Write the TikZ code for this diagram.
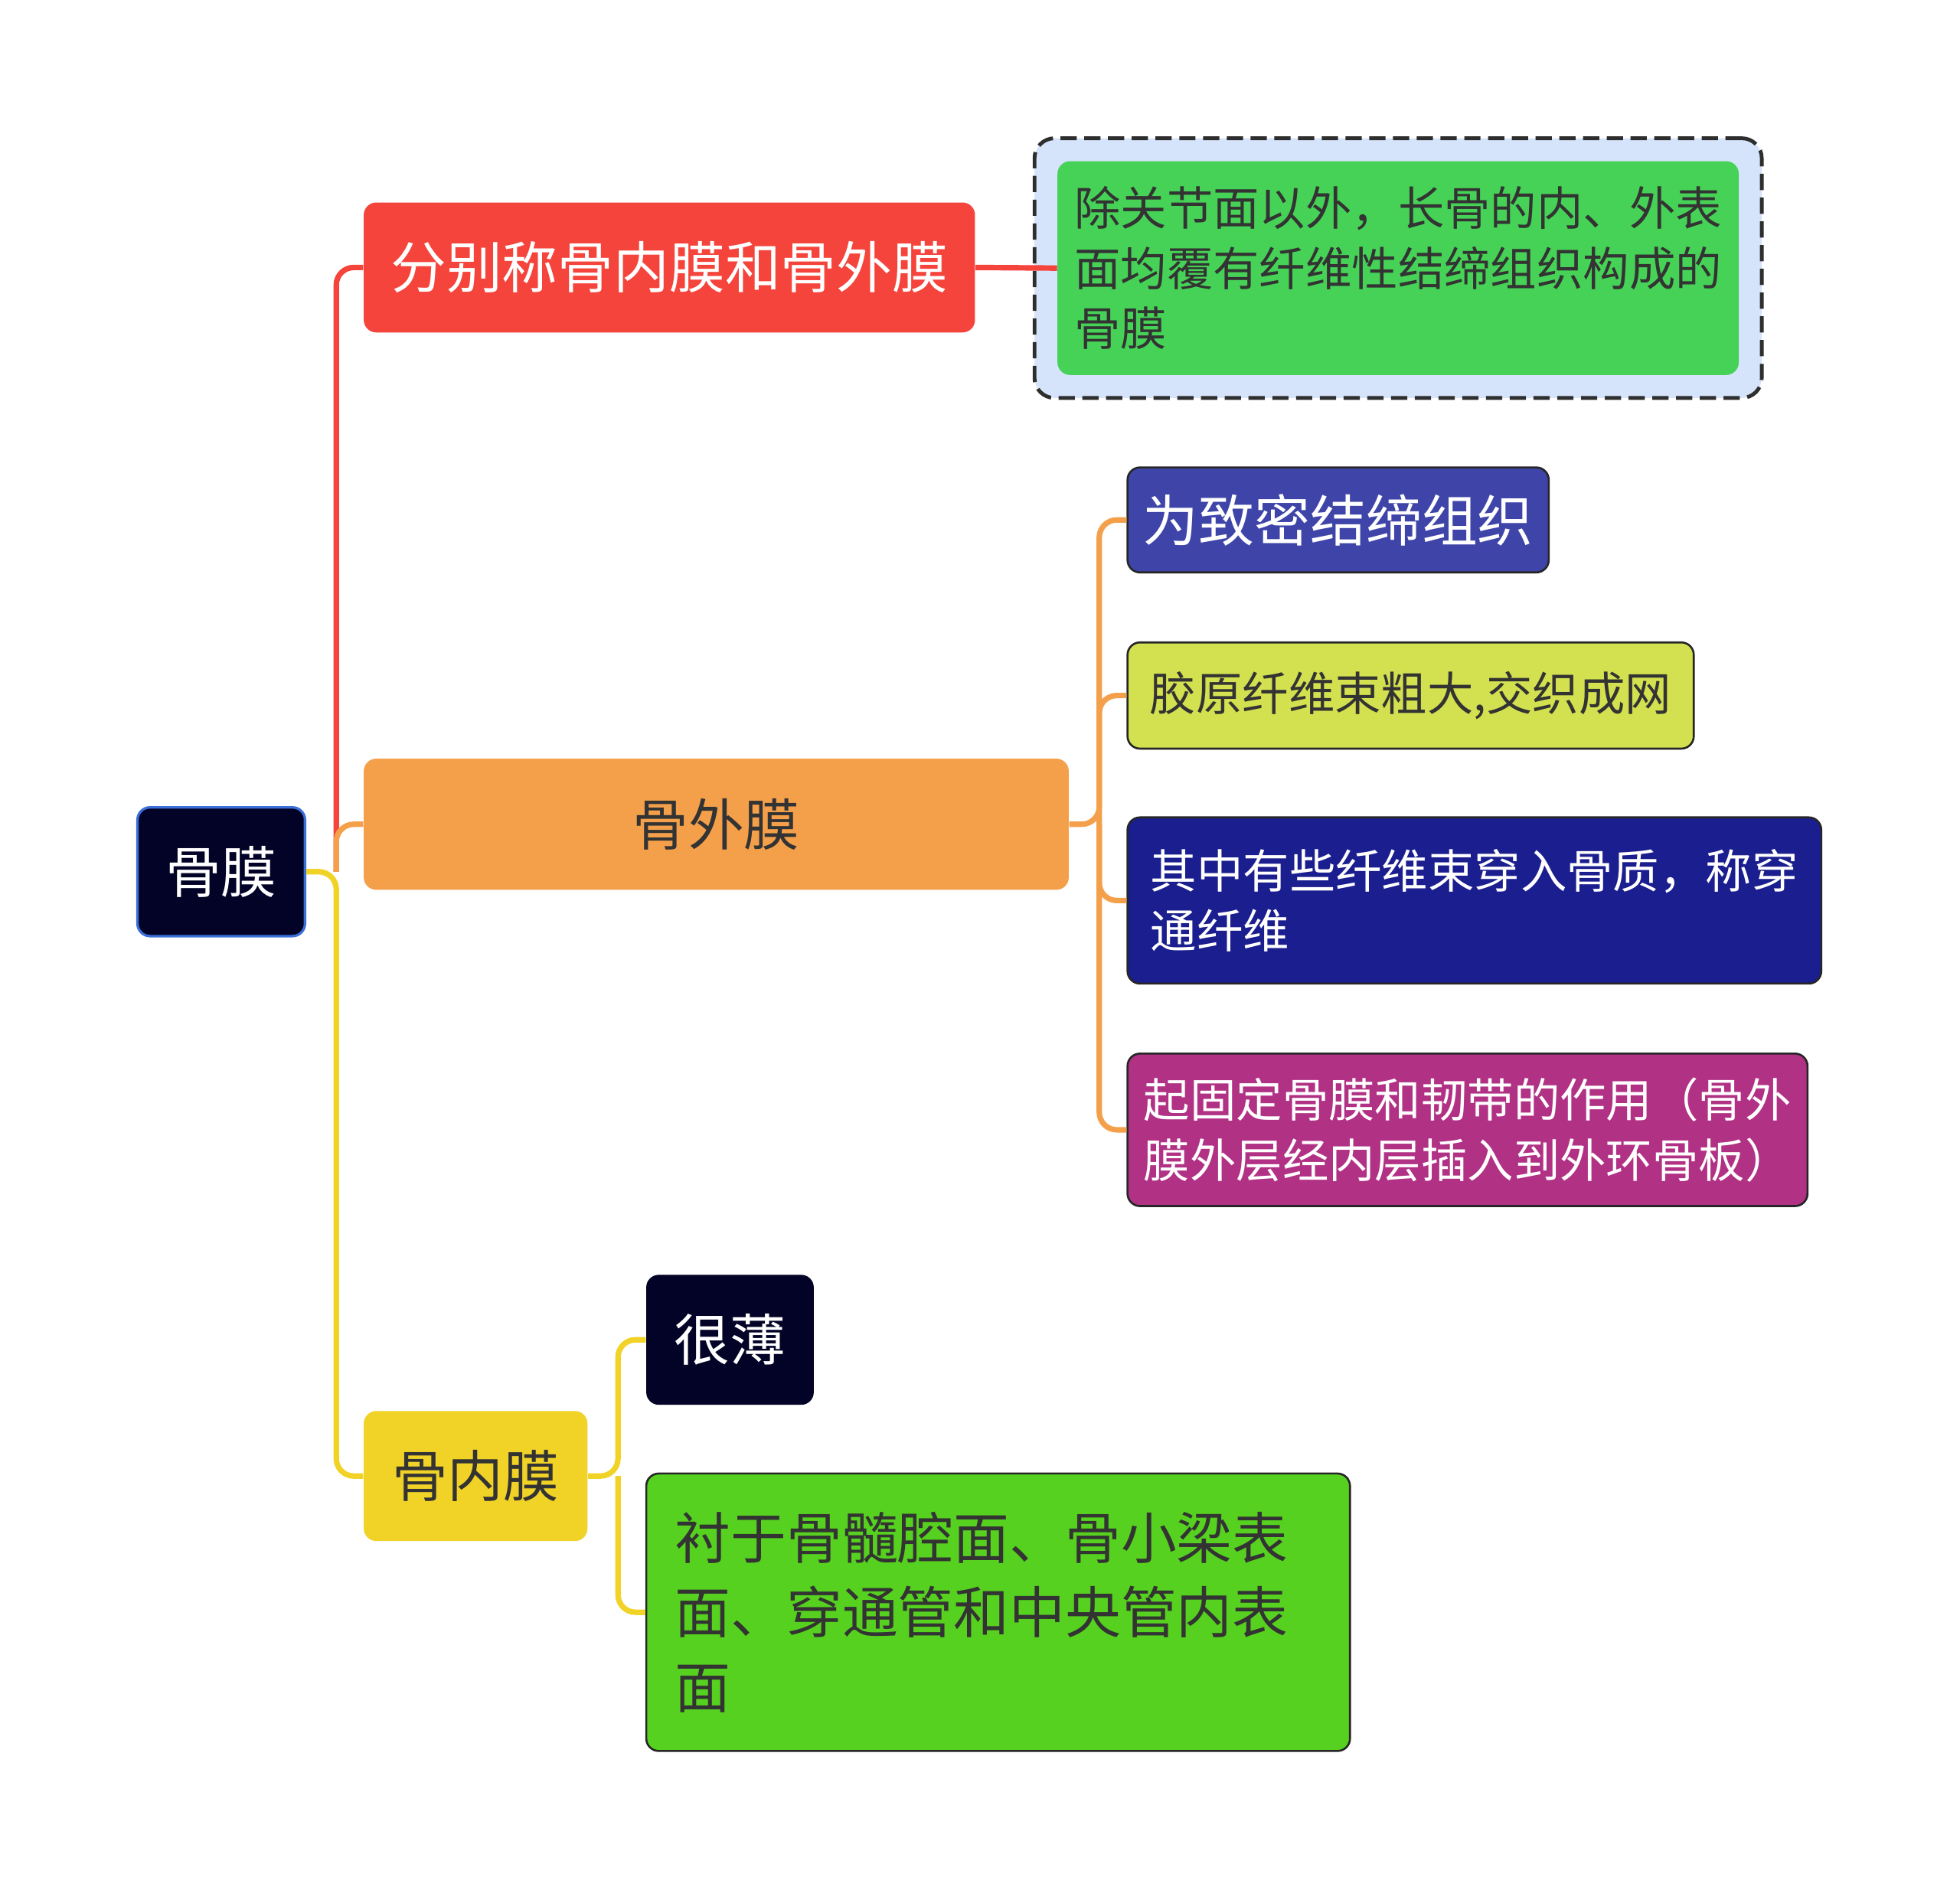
\documentclass[tikz,border=0pt]{standalone}
\usepackage{fontspec}
\setmainfont{Noto Sans CJK SC}
\usepackage{tikz}
\usetikzlibrary{positioning, fit, backgrounds}

\definecolor{rootnavy}{HTML}{020326}
\definecolor{rootrim}{HTML}{3A6FD8}
\definecolor{branchred}{HTML}{F5443B}
\definecolor{branchorange}{HTML}{F4A04B}
\definecolor{branchyellow}{HTML}{F1D226}
\definecolor{defgreen}{HTML}{46D256}
\definecolor{framefill}{HTML}{D6E4FB}
\definecolor{framegray}{HTML}{2E2E2E}
\definecolor{denseindigo}{HTML}{3F45A8}
\definecolor{fibrelime}{HTML}{D3E04F}
\definecolor{perfnavy}{HTML}{1B1E8E}
\definecolor{fixpurple}{HTML}{B13185}
\definecolor{linegreen}{HTML}{56D11F}
\definecolor{textgray}{HTML}{333333}

\begin{document}
\begin{tikzpicture}[x=0.5pt, y=-0.5pt,
  box/.style={rectangle, rounded corners=5pt, inner sep=0pt, align=center, text=textgray},
  big/.style={font=\fontsize{22.3}{28}\selectfont},
  small/.style={font=\fontsize{18.5}{24}\selectfont},
  rim/.style={draw=black!85, line width=0.8pt},
  link/.style={line width=2.2pt, rounded corners=7pt}]
\useasboundingbox (0,0) rectangle (1568,1512);

\node[box, big, fill=rootnavy, draw=rootrim, line width=1pt, text=white, minimum width=67pt, minimum height=51.5pt] (root) at (177,697.5) {骨膜};
\node[box, big, fill=branchred, text=white, minimum width=244.5pt, minimum height=52pt] (sep) at (535.5,214) {分别称骨内膜和骨外膜};
\node[box, big, fill=branchorange, minimum width=282pt, minimum height=52.5pt] (outer) at (573,659.5) {骨外膜};
\node[box, big, fill=branchyellow, minimum width=89.5pt, minimum height=52pt] (inner) at (380.5,1181) {骨内膜};

\node[box, small, align=left, fill=defgreen, minimum width=272.5pt, minimum height=85.5pt] (def) at (1118.5,214.5) {除关节面以外，长骨的内、外表\\面均覆有纤维性结缔组织构成的\\骨膜};
\begin{scope}[on background layer]
\node[draw=framegray, line width=1.5pt, dash pattern=on 6.5pt off 3pt, fill=framefill, rounded corners=8pt, fit=(def), inner sep=9pt] (defframe) {};
\end{scope}

\node[box, big, rim, fill=denseindigo, text=white, minimum width=168.5pt, minimum height=42pt] (dense) at (1070.5,416) {为致密结缔组织};
\node[box, small, rim, fill=fibrelime, minimum width=226.5pt, minimum height=42.5pt] (fibre) at (1128.5,556.5) {胶原纤维束粗大,交织成网};
\node[box, small, rim, align=left, fill=perfnavy, text=white, minimum width=277.5pt, minimum height=66.5pt] (perf) at (1179.5,720.5) {其中有些纤维束穿入骨质，称穿\\通纤维};
\node[box, small, rim, align=left, fill=fixpurple, text=white, minimum width=272pt, minimum height=61pt] (fix) at (1174,904) {起固定骨膜和韧带的作用（骨外\\膜外层经内层插入到外环骨板）};

\node[box, big, fill=rootnavy, text=white, minimum width=67pt, minimum height=52pt] (thin) at (584,1072) {很薄};
\node[box, rim, align=left, fill=linegreen, font=\fontsize{22.3}{29.75}\selectfont, text width=258.5pt, inner xsep=11.5pt, minimum height=111pt] (lining) at (798.5,1290) {衬于骨髓腔面、骨小梁表\\面、穿通管和中央管内表\\面};

\coordinate (rootj) at ([xshift=12pt]root.east);
\coordinate (outerj) at ([xshift=12pt]outer.east);
\coordinate (innerj) at ([xshift=12pt]inner.east);

\draw[link, branchred] (rootj) |- (sep.west);
\draw[link, branchorange] (rootj) |- (outer.west);
\draw[link, branchyellow] (root.east) -- (rootj) |- (inner.west);
\draw[link, branchred] (sep.east) -- (def.west);

\draw[link, branchorange] (outer.east) -- (outerj) |- (dense.west);
\draw[link, branchorange] (outerj) |- (fibre.west);
\draw[link, branchorange] (outerj) |- (perf.west);
\draw[link, branchorange] (outerj) |- (fix.west);

\draw[link, branchyellow] (inner.east) -- (innerj) |- (thin.west);
\draw[link, branchyellow] (innerj) |- (lining.west);
\end{tikzpicture}
\end{document}
